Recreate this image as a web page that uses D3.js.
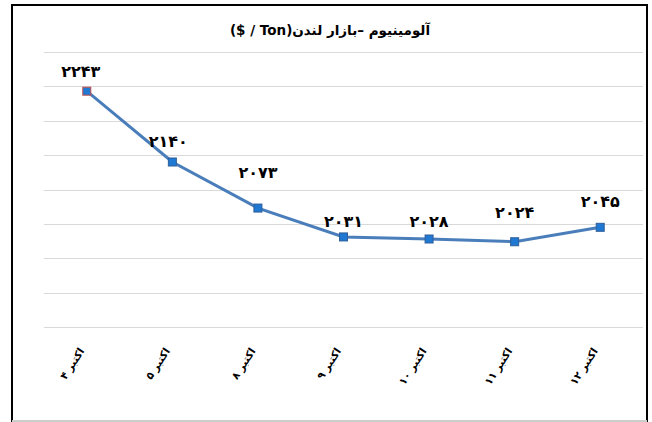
<!DOCTYPE html>
<html>
<head>
  <meta charset="utf-8">
  <style>
    body { margin: 0; background: #fff; }
    .grid line { stroke: #d9d9d9; stroke-width: 1px; shape-rendering: crispEdges; }
    .line { fill: none; stroke: #4a7ebb; stroke-width: 3px; }
    .dot { fill: #1f78d1; stroke: #2f5f9a; stroke-width: 1px; }
    .vlbl { font-family: "DejaVu Sans", sans-serif; font-weight: bold; font-size: 16px; fill: #000; }
    .xlbl { font-family: "DejaVu Sans", sans-serif; font-weight: bold; font-size: 10.5px; fill: #000; }
    .title { font-family: "DejaVu Sans", sans-serif; font-weight: bold; font-size: 13.5px; fill: #000; }
  </style>
  <script src="https://d3js.org/d3.v7.min.js"></script>
</head>
<body>
  <div id="graph"></div>
  <script>
    var categories = ["اکتبر ۴", "اکتبر ۵", "اکتبر ۸", "اکتبر ۹", "اکتبر ۱۰", "اکتبر ۱۱", "اکتبر ۱۲"];
    var values = [2243, 2140, 2073, 2031, 2028, 2024, 2045];
    var valueLabels = ["۲۲۴۳", "۲۱۴۰", "۲۰۷۳", "۲۰۳۱", "۲۰۲۸", "۲۰۲۴", "۲۰۴۵"];
    var gridTicks = [1900, 1950, 2000, 2050, 2100, 2150, 2200, 2250, 2300];
    var title = "آلومینیوم –بازار لندن(Ton / $)";

    // hand-placed data label lift (px above the point), as in the source chart
    var labelLift = [19, 20, 35, 15, 17, 29, 25];
    var labelShift = [-6, -4, 0, 0, 0, 0, 0];

    var W = 652, H = 422;
    var margin = { top: 52, right: 9, bottom: 95, left: 44 };
    var width = W - margin.left - margin.right;
    var height = H - margin.top - margin.bottom;

    var root = d3.select("#graph").append("svg")
      .attr("width", W)
      .attr("height", H);

    // frame
    root.append("line").attr("x1", 12).attr("y1", 5).attr("x2", 12).attr("y2", H)
      .attr("stroke", "#000").attr("stroke-width", 2);
    root.append("line").attr("x1", 11).attr("y1", 5).attr("x2", 648).attr("y2", 5)
      .attr("stroke", "#000").attr("stroke-width", 2);
    root.append("line").attr("x1", 647).attr("y1", 5).attr("x2", 647).attr("y2", H)
      .attr("stroke", "#000").attr("stroke-width", 2);
    root.append("line").attr("x1", 12).attr("y1", 421).attr("x2", 647).attr("y2", 421)
      .attr("stroke", "#ccc").attr("stroke-width", 2);

    root.append("text")
      .attr("class", "title")
      .attr("x", 330)
      .attr("y", 35)
      .attr("text-anchor", "middle")
      .attr("direction", "rtl")
      .text(title);

    var svg = root.append("g")
      .attr("transform", "translate(" + margin.left + "," + margin.top + ")");

    var x = d3.scaleBand().domain(categories).range([0, width]);
    var y = d3.scaleLinear().domain([1900, 2300]).range([height, 0]);

    svg.append("g").attr("class", "grid")
      .selectAll("line").data(gridTicks).join("line")
      .attr("x1", 0).attr("x2", width)
      .attr("y1", function(d) { return Math.round(y(d)) + 0.5; })
      .attr("y2", function(d) { return Math.round(y(d)) + 0.5; });

    var cx = function(d, i) { return x(categories[i]) + x.bandwidth() / 2; };

    var line = d3.line()
      .x(function(d, i) { return cx(d, i); })
      .y(function(d) { return y(d); });

    svg.append("path").datum(values).attr("class", "line").attr("d", line);

    svg.selectAll(".dot").data(values).join("rect")
      .attr("class", "dot")
      .attr("x", function(d, i) { return cx(d, i) - 4; })
      .attr("y", function(d) { return y(d) - 4; })
      .attr("width", 8).attr("height", 8)
      .style("stroke", function(d, i) { return i == 0 ? "#c0504d" : null; });

    svg.selectAll(".vlbl").data(values).join("text")
      .attr("class", "vlbl")
      .attr("x", function(d, i) { return cx(d, i) + labelShift[i]; })
      .attr("y", function(d, i) { return y(d) - labelLift[i] + 5; })
      .attr("text-anchor", "middle")
      .text(function(d, i) { return valueLabels[i]; });

    // rotated category labels
    svg.selectAll(".xlbl").data(categories).join("text")
      .attr("class", "xlbl")
      .attr("text-anchor", "end")
      .attr("transform", function(d) {
        return "translate(" + (x(d) + x.bandwidth() / 2 - 2) + "," + (height + 24) + ") rotate(-57)";
      })
      .text(function(d) { return d; });
  </script>
</body>
</html>
